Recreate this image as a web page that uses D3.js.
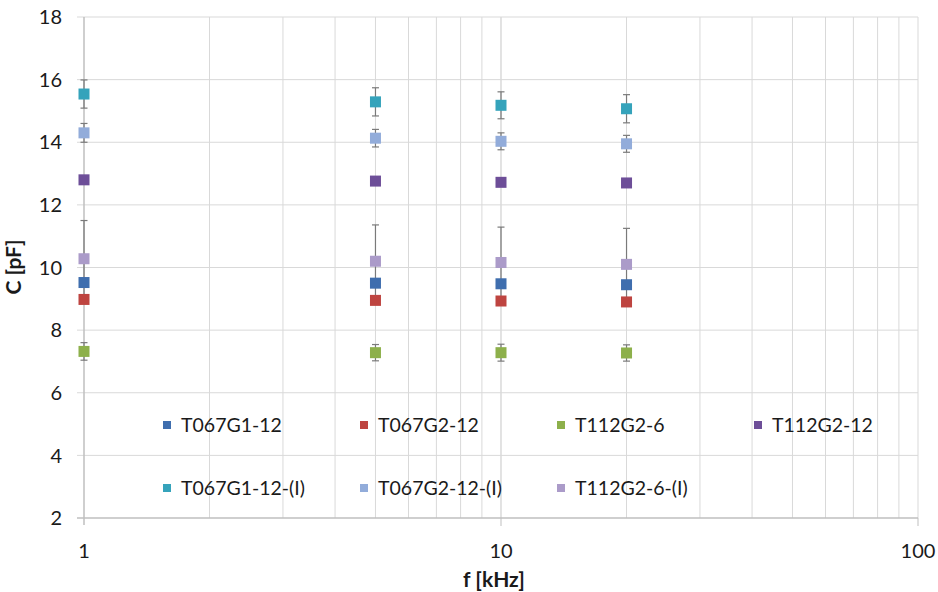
<!DOCTYPE html>
<html>
<head>
<meta charset="utf-8">
<script src="https://cdn.jsdelivr.net/npm/d3@7"></script>
<style>
  body { margin: 0; background: #fff; }
  svg { font-family: Lato, "Liberation Sans", sans-serif; }
</style>
</head>
<body>
<script>
// data
var freqs = [1, 5, 10, 20];   // f [kHz]
var seriesNames = ["T067G1-12", "T067G2-12", "T112G2-6", "T112G2-12",
                   "T067G1-12-(I)", "T067G2-12-(I)", "T112G2-6-(I)"];
var seriesColors = ["#3F6EAE", "#BE4440", "#8DB04B", "#6D4E98",
                    "#35A3BB", "#92ACDA", "#AB9BC9"];
var t067g1_12   = [9.52, 9.50, 9.48, 9.45];
var t067g2_12   = [8.98, 8.95, 8.93, 8.90];
var t112g2_6    = [7.32, 7.28, 7.28, 7.27];
var t112g2_12   = [12.80, 12.76, 12.72, 12.70];
var t067g1_12i  = [15.54, 15.29, 15.18, 15.07];
var t067g2_12i  = [14.30, 14.13, 14.03, 13.95];
var t112g2_6i   = [10.28, 10.20, 10.16, 10.10];
// error bar half widths
var err_t067g1_12  = [0.10, 0.10, 0.10, 0.10];
var err_t067g2_12  = [0.10, 0.10, 0.10, 0.10];
var err_t112g2_6   = [0.28, 0.26, 0.27, 0.26];
var err_t112g2_12  = [0.10, 0.10, 0.10, 0.10];
var err_t067g1_12i = [0.45, 0.45, 0.43, 0.45];
var err_t067g2_12i = [0.30, 0.28, 0.27, 0.27];
var err_t112g2_6i  = [1.22, 1.16, 1.13, 1.15];
var yTicks = [2, 4, 6, 8, 10, 12, 14, 16, 18];
var xTicks = [1, 10, 100];

var values = [t067g1_12, t067g2_12, t112g2_6, t112g2_12, t067g1_12i, t067g2_12i, t112g2_6i];
var errors = [err_t067g1_12, err_t067g2_12, err_t112g2_6, err_t112g2_12, err_t067g1_12i, err_t067g2_12i, err_t112g2_6i];

var w = 938, h = 592;
var plotLeft = 84, plotRight = 918, plotTop = 17, plotBottom = 518;

var x = d3.scaleLog().domain([1, 100]).range([plotLeft, plotRight]);
var y = d3.scaleLinear().domain([2, 18]).range([plotBottom, plotTop]);

var svg = d3.select("body").append("svg")
    .attr("width", w)
    .attr("height", h);

// vertical grid (log minor lines)
var vLines = [];
[1, 10].forEach(function(dec) {
    for (var k = 1; k <= 10; k++) vLines.push(dec * k);
});
svg.append("g").selectAll("line")
    .data(vLines.filter(function(v) { return v > 1; }))
    .enter().append("line")
    .attr("x1", function(d) { return x(d); })
    .attr("x2", function(d) { return x(d); })
    .attr("y1", plotTop)
    .attr("y2", plotBottom)
    .attr("stroke", "#d9d9d9")
    .attr("stroke-width", 1);

// horizontal grid + y ticks
svg.append("g").selectAll("line")
    .data(yTicks)
    .enter().append("line")
    .attr("x1", plotLeft - 7)
    .attr("x2", plotRight)
    .attr("y1", function(d) { return y(d); })
    .attr("y2", function(d) { return y(d); })
    .attr("stroke", function(d) { return d === 2 ? "#bfbfbf" : "#d9d9d9"; })
    .attr("stroke-width", function(d) { return d === 2 ? 1.5 : 1; });

// y axis line
svg.append("line")
    .attr("x1", plotLeft).attr("x2", plotLeft)
    .attr("y1", plotTop).attr("y2", plotBottom + 7)
    .attr("stroke", "#bfbfbf").attr("stroke-width", 1.5);

// x ticks
svg.append("g").selectAll("line")
    .data(xTicks.slice(1))
    .enter().append("line")
    .attr("x1", function(d) { return x(d); })
    .attr("x2", function(d) { return x(d); })
    .attr("y1", plotBottom)
    .attr("y2", plotBottom + 8)
    .attr("stroke", "#bfbfbf");

// y tick labels
svg.append("g").selectAll("text")
    .data(yTicks)
    .enter().append("text")
    .attr("x", 62)
    .attr("y", function(d) { return y(d); })
    .attr("dy", "0.36em")
    .attr("text-anchor", "end")
    .attr("font-size", "20px")
    .attr("fill", "#1a1a1a")
    .text(function(d) { return d; });

// x tick labels
svg.append("g").selectAll("text")
    .data(xTicks)
    .enter().append("text")
    .attr("x", function(d) { return x(d); })
    .attr("y", 558)
    .attr("text-anchor", "middle")
    .attr("font-size", "20px")
    .attr("fill", "#1a1a1a")
    .text(function(d) { return d; });

// axis titles
svg.append("text")
    .attr("x", 494)
    .attr("y", 587)
    .attr("text-anchor", "middle")
    .attr("font-size", "21px")
    .attr("font-weight", "bold")
    .attr("fill", "#1a1a1a")
    .text("f [kHz]");

svg.append("text")
    .attr("transform", "rotate(-90)")
    .attr("x", -267)
    .attr("y", 21)
    .attr("text-anchor", "middle")
    .attr("font-size", "21px")
    .attr("font-weight", "bold")
    .attr("fill", "#1a1a1a")
    .text("C [pF]");

// flatten points
var points = [];
values.forEach(function(vals, s) {
    vals.forEach(function(v, i) {
        points.push({ s: s, f: freqs[i], v: v, e: errors[s][i] });
    });
});

// error bars
var eb = svg.append("g").attr("stroke", "#7a7a7a").attr("stroke-width", 1.2);
eb.selectAll("line.bar")
    .data(points)
    .enter().append("line")
    .attr("x1", function(d) { return x(d.f); })
    .attr("x2", function(d) { return x(d.f); })
    .attr("y1", function(d) { return y(d.v + d.e); })
    .attr("y2", function(d) { return y(d.v - d.e); });
["top", "bot"].forEach(function(side) {
    eb.selectAll("line.cap-" + side)
        .data(points)
        .enter().append("line")
        .attr("class", "cap-" + side)
        .attr("x1", function(d) { return x(d.f) - 3.5; })
        .attr("x2", function(d) { return x(d.f) + 3.5; })
        .attr("y1", function(d) { return y(side === "top" ? d.v + d.e : d.v - d.e); })
        .attr("y2", function(d) { return y(side === "top" ? d.v + d.e : d.v - d.e); });
});

// markers
var ms = 11;
svg.append("g").selectAll("rect")
    .data(points)
    .enter().append("rect")
    .attr("x", function(d) { return x(d.f) - ms / 2; })
    .attr("y", function(d) { return y(d.v) - ms / 2; })
    .attr("width", ms)
    .attr("height", ms)
    .attr("fill", function(d) { return seriesColors[d.s]; });

// legend
var legend = svg.append("g").selectAll("g")
    .data(seriesNames)
    .enter().append("g")
    .attr("transform", function(d, i) {
        return "translate(" + (167 + (i % 4) * 197) + "," + (425 + Math.floor(i / 4) * 63) + ")";
    });
legend.append("rect")
    .attr("x", -4).attr("y", -4)
    .attr("width", 8).attr("height", 8)
    .attr("fill", function(d, i) { return seriesColors[i]; });
legend.append("text")
    .attr("x", 14)
    .attr("dy", "0.36em")
    .attr("font-size", "19.5px")
    .attr("fill", "#1a1a1a")
    .text(function(d) { return d; });
</script>
</body>
</html>
